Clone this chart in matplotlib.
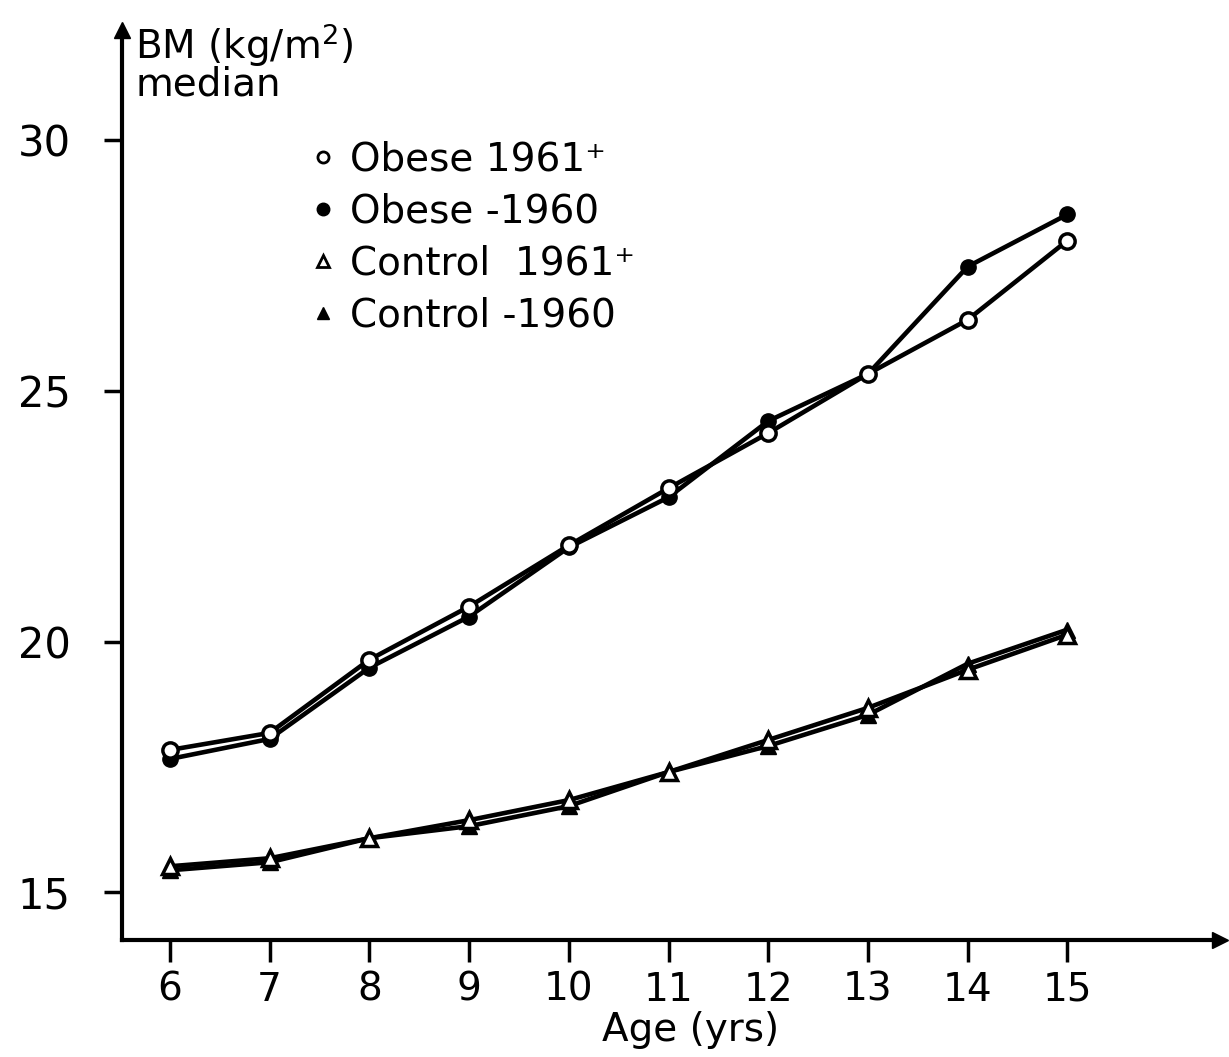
import matplotlib
matplotlib.use("Agg")
import matplotlib.pyplot as plt
from matplotlib.lines import Line2D

# median BMI by age
age = [6, 7, 8, 9, 10, 11, 12, 13, 14, 15]
obese_1961 = [17.84, 18.18, 19.64, 20.70, 21.92, 23.06, 24.16, 25.34, 26.42, 28.00]
obese_1960 = [17.66, 18.06, 19.48, 20.50, 21.88, 22.88, 24.40, 25.34, 27.48, 28.52]
control_1961 = [15.52, 15.68, 16.08, 16.44, 16.84, 17.40, 18.04, 18.68, 19.44, 20.14]
control_1960 = [15.44, 15.60, 16.08, 16.32, 16.72, 17.40, 17.92, 18.54, 19.56, 20.24]

labels = ["Obese 1961\u207a", "Obese -1960", "Control  1961\u207a", "Control -1960"]
xticks = [6, 7, 8, 9, 10, 11, 12, 13, 14, 15]
yticks = [15, 20, 25, 30]

plt.rcParams['font.family'] = ['DejaVu Sans']

fig = plt.figure(figsize=(12.29, 10.57), dpi=100)
ax = fig.add_axes([0.0993, 0.1107, 0.8934, 0.861])

lw = 3.3
ax.plot(age, obese_1961, color='k', lw=lw, marker='o', ms=11, mfc='white', mec='k', mew=2.5, zorder=4)
ax.plot(age, obese_1960, color='k', lw=lw, marker='o', ms=11, mfc='k', mec='k', zorder=3)
ax.plot(age, control_1961, color='k', lw=lw, marker='^', ms=12, mfc='white', mec='k', mew=2.5, zorder=4)
ax.plot(age, control_1960, color='k', lw=lw, marker='^', ms=12, mfc='k', mec='k', zorder=3)

ax.set_xlim(5.52, 16.53)
ax.set_ylim(14.05, 32.2)

for s in ['top', 'right']:
    ax.spines[s].set_visible(False)
for s in ['left', 'bottom']:
    ax.spines[s].set_linewidth(3)

ax.set_xticks(xticks)
ax.set_yticks(yticks)
ax.tick_params(axis='x', direction='out', length=16, width=2.5, pad=6, labelsize=28)
ax.tick_params(axis='y', direction='out', length=13, width=2.5, pad=24, labelsize=30)

# arrow heads at the axis ends
ax.plot(0, 1, marker='^', color='k', ms=12, transform=ax.transAxes, clip_on=False)
ax.plot(1, 0, marker='>', color='k', ms=12, transform=ax.transAxes, clip_on=False)

# axis titles
fig.text(0.110, 0.980, "BM (kg/m$^2$)", fontsize=28, va='top', ha='left')
fig.text(0.110, 0.938, "median", fontsize=28, va='top', ha='left')
fig.text(0.562, 0.026, "Age (yrs)", fontsize=28, va='center', ha='center')

# legend, markers only
handles = [
    Line2D([], [], ls='none', marker='o', ms=8, mfc='white', mec='k', mew=2),
    Line2D([], [], ls='none', marker='o', ms=9, mfc='k', mec='k'),
    Line2D([], [], ls='none', marker='^', ms=8, mfc='white', mec='k', mew=2),
    Line2D([], [], ls='none', marker='^', ms=9, mfc='k', mec='k'),
]
ax.legend(handles, labels, loc='upper left', bbox_to_anchor=(0.158, 0.896),
          frameon=False, fontsize=28, handlelength=0.6, handletextpad=0.4,
          labelspacing=0.36, borderaxespad=0)

fig.savefig("out.png", dpi=100)
